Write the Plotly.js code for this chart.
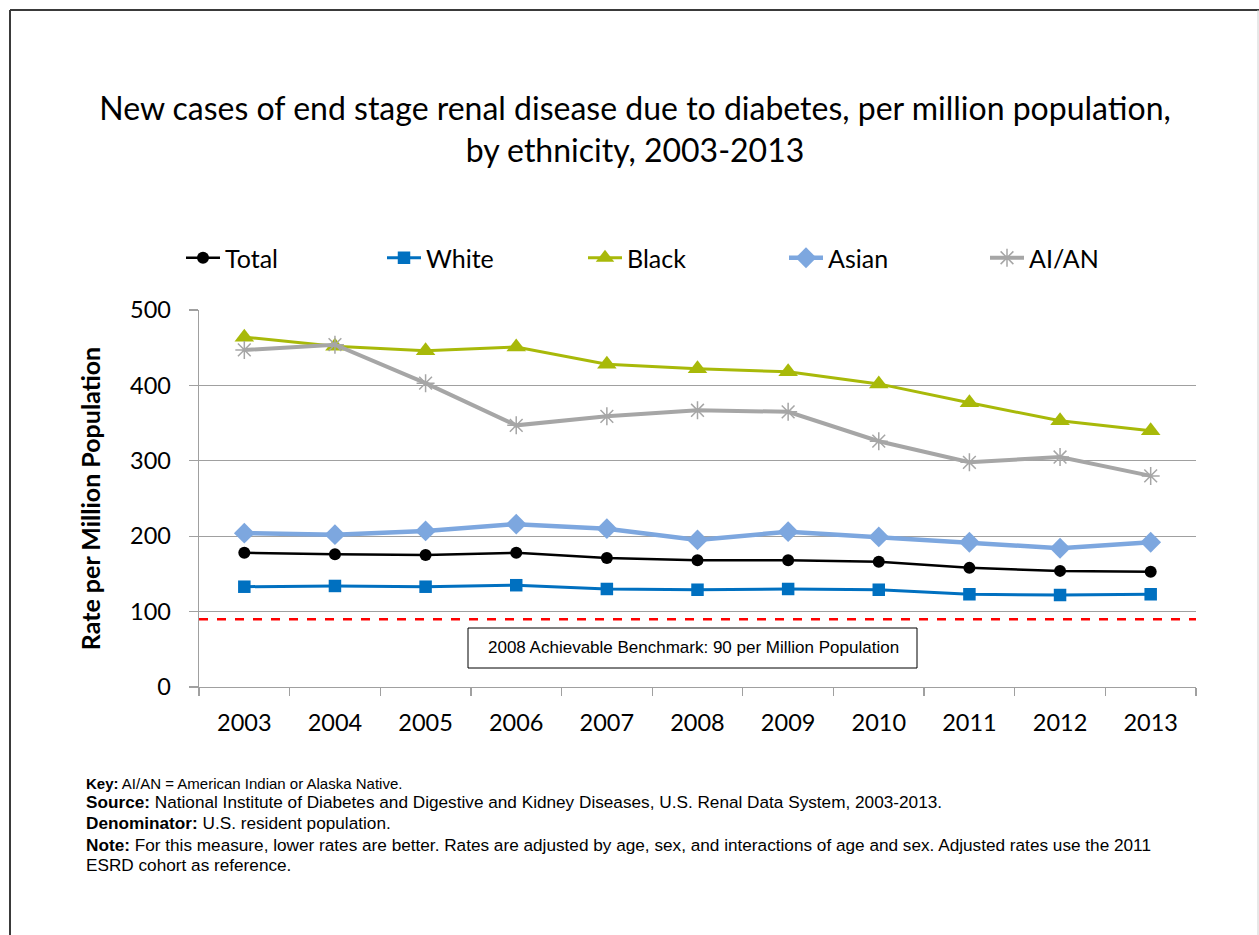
<!DOCTYPE html>
<html>
<head>
<meta charset="utf-8">
<script src="https://cdn.plot.ly/plotly-3.0.1.min.js"></script>
<style>html,body{margin:0;padding:0;background:#fff;}#chart{width:1259px;height:935px;}</style>
</head>
<body>
<div id="chart"></div>
<script>
const years = ["2003","2004","2005","2006","2007","2008","2009","2010","2011","2012","2013"];
const totalVals = [178,176,175,178,171,168,168,166,158,154,153];
const whiteVals = [133,134,133,135,130,129,130,129,123,122,123];
const blackVals = [464,452,446,451,428,422,418,402,377,353,340];
const asianVals = [204,202,207,216,210,195,206,199,192,184,192];
const aianVals  = [447,454,403,347,359,367,365,326,298,305,280];
const benchmark = 90;
const yTicks = [0,100,200,300,400,500];

const titleFont = "Lato, 'Open Sans', sans-serif";
const noteFont = "'Liberation Sans', Arial, sans-serif";

const traces = [
  {name:"Total", x:years, y:totalVals, mode:"lines+markers",
   line:{color:"#000000", width:2.5}, marker:{symbol:"circle", size:12, color:"#000000"}},
  {name:"White", x:years, y:whiteVals, mode:"lines+markers",
   line:{color:"#0070C0", width:3}, marker:{symbol:"square", size:12.5, color:"#0070C0"}},
  {name:"Black", x:years, y:blackVals, mode:"lines+markers",
   line:{color:"#A8B909", width:3}, marker:{symbol:"triangle-up", size:17, color:"#A8B909"}},
  {name:"Asian", x:years, y:asianVals, mode:"lines+markers",
   line:{color:"#7DA7DF", width:4.5}, marker:{symbol:"diamond", size:16, color:"#7DA7DF"}},
  {name:"AI/AN", x:years, y:aianVals, mode:"lines+markers",
   line:{color:"#A6A6A6", width:4}, marker:{symbol:"asterisk-open", size:15, color:"#A6A6A6", line:{color:"#A6A6A6", width:1.5}}}
];

// pixel helpers for plot area: x 199..1196, y 310..687
const L=199, R=1196, T=310, B=687;
const px = v => (v-L)/(R-L);
const py = v => (B-v)/(B-T);

const notes = [
  "<b>Key:</b> AI/AN = American Indian or Alaska Native.",
  "<b>Source:</b> National Institute of Diabetes and Digestive and Kidney Diseases, U.S. Renal Data System, 2003-2013.",
  "<b>Denominator:</b> U.S. resident population.",
  "<b>Note:</b> For this measure, lower rates are better. Rates are adjusted by age, sex, and interactions of age and sex. Adjusted rates use the 2011",
  "ESRD cohort as reference."
];
const noteY = [783, 802, 823, 845, 865];
const noteSize = [15, 17.2, 17.2, 17.2, 17.2];

const annotations = notes.map((t,i)=>({
  text:t, xref:"paper", yref:"paper", x:px(84), y:py(noteY[i]), xanchor:"left", yanchor:"middle",
  showarrow:false, align:"left", font:{family:noteFont, size:noteSize[i], color:"#000"}
}));
annotations.push({
  text:"2008 Achievable Benchmark: 90 per Million Population",
  xref:"paper", yref:"paper", x:px(693), y:py(647), xanchor:"center", yanchor:"middle",
  showarrow:false, font:{family:noteFont, size:17, color:"#000"}
});

const shapes = [
  {type:"line", xref:"paper", yref:"y", x0:0, x1:1, y0:benchmark, y1:benchmark,
   line:{color:"#FF0000", width:2.5, dash:"dash"}},
  {type:"rect", xref:"paper", yref:"paper", x0:px(468), x1:px(917), y0:py(628), y1:py(668),
   line:{color:"#000", width:1}, fillcolor:"#fff"},
  {type:"line", xref:"paper", yref:"paper", x0:px(10), x1:px(1259), y0:py(10), y1:py(10), line:{color:"#3a3a3a", width:2}},
  {type:"line", xref:"paper", yref:"paper", x0:px(10), x1:px(10), y0:py(10), y1:py(940), line:{color:"#3a3a3a", width:2}},
  {type:"line", xref:"paper", yref:"paper", x0:px(1258), x1:px(1258), y0:py(10), y1:py(940), line:{color:"#d0d0d0", width:1}}
];

const layout = {
  width:1259, height:935,
  margin:{l:L, r:1259-R, t:T, b:935-B, autoexpand:false},
  paper_bgcolor:"#fff", plot_bgcolor:"#fff",
  title:{text:"New cases of end stage renal disease due to diabetes, per million population,<br>by ethnicity, 2003-2013",
    font:{family:titleFont, size:32, color:"#000"}, x:635/1259, xref:"container", y:(935-120)/935, yref:"container",
    yanchor:"middle", xanchor:"center"},
  showlegend:true,
  legend:{orientation:"h", x:px(181), y:py(258), xanchor:"left", yanchor:"middle",
    font:{family:titleFont, size:25, color:"#000"}, entrywidth:152, entrywidthmode:"pixels",
    itemwidth:34, bgcolor:"rgba(0,0,0,0)", traceorder:"normal"},
  xaxis:{type:"category", range:[-0.5,10.5], showgrid:false, showline:true, linecolor:"#A0A0A0", linewidth:1.3,
    ticks:"outside", tickson:"boundaries", ticklen:8, tickcolor:"#A0A0A0", tickwidth:1.3, ticklabelstandoff:14,
    tickfont:{family:titleFont, size:23.5, color:"#000"}, zeroline:false, fixedrange:true},
  yaxis:{range:[0,500], tickvals:yTicks, showgrid:true, gridcolor:"#A0A0A0", gridwidth:1.3,
    showline:true, linecolor:"#A0A0A0", linewidth:1.3, ticks:"outside", ticklen:9, tickcolor:"#A0A0A0", tickwidth:1.3,
    ticklabelstandoff:13,
    tickfont:{family:titleFont, size:23.5, color:"#000"}, zeroline:false,
    title:{text:"<b>Rate per Million Population</b>", font:{family:titleFont, size:25, color:"#000"}, standoff:22}},
  shapes:shapes, annotations:annotations
};

Plotly.newPlot("chart", traces, layout, {staticPlot:true, displayModeBar:false});
</script>
</body>
</html>
